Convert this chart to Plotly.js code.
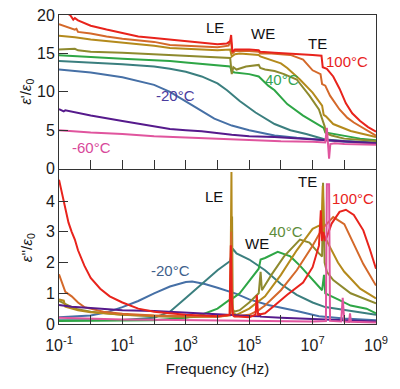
<!DOCTYPE html>
<html>
<head>
<meta charset="utf-8">
<script src="https://cdn.plot.ly/plotly-3.0.1.min.js"></script>
<style>html,body{margin:0;padding:0;background:#fff;}#chart{width:400px;height:389px;}</style>
</head>
<body>
<div id="chart"></div>
<script>
// Temperatures and colours
const temps = ["-60°C", "-40°C", "-20°C", "0°C", "20°C", "40°C", "60°C", "80°C", "100°C"];
const colors = ["#e0559e", "#561a8c", "#4670a6", "#3b7f7f", "#2ea646", "#8e8a2e", "#b48a1c", "#d4692a", "#e8231c"];

// ---- Top panel: eps' / eps0  (x = log10 frequency in Hz) ----
const re_m60_lf = [-1, 0, 1, 2, 3, 4, 5, 6, 7, 7.4, 7.45, 7.48, 7.52, 7.56, 7.7, 8, 9];
const re_m60_v  = [5.0, 4.7, 4.5, 4.2, 4.05, 3.9, 3.7, 3.55, 3.5, 3.4, 5.3, 3.0, 1.3, 3.2, 3.3, 3.2, 3.1];
const re_m40_lf = [-1, -0.85, -0.8, 0, 1, 2, 2.5, 3, 3.5, 4.45, 5, 5.8, 7, 8, 9];
const re_m40_v  = [7.75, 7.45, 7.6, 6.9, 6.2, 5.5, 5.15, 5.0, 4.85, 4.4, 4.2, 4.1, 3.8, 3.5, 3.3];
const re_m20_lf = [-1, 0, 1, 1.5, 2, 2.5, 3, 3.3, 3.9, 4.45, 5, 5.8, 6.5, 7.3, 8, 9];
const re_m20_v  = [12.9, 12.5, 11.9, 11.4, 10.9, 10.0, 8.8, 8.0, 6.5, 5.6, 5.0, 4.3, 4.0, 3.7, 3.5, 3.3];
const re_0_lf   = [-1, 0, 1, 2, 2.5, 3, 3.5, 4, 4.3, 4.7, 5.2, 5.8, 6.3, 6.8, 7.3, 7.4, 8.0, 9.0];
const re_0_v    = [14.0, 13.8, 13.6, 13.3, 13.0, 12.6, 12.0, 11.1, 10.2, 8.8, 7.3, 5.8, 5.0, 4.5, 4.0, 3.8, 3.6, 3.4];
const re_20_lf  = [-1, 0, 1, 2, 2.5, 3, 3.5, 4, 4.4, 4.45, 4.55, 5.0, 5.3, 5.4, 5.6, 5.8, 6.2, 6.7, 7.2, 7.35, 7.4, 7.8, 8.5, 9.0];
const re_20_v   = [14.75, 14.5, 14.3, 14.1, 14.0, 13.8, 13.6, 13.4, 13.3, 12.6, 12.5, 12.3, 12.0, 11.6, 10.8, 10.2, 8.4, 6.9, 5.6, 5.3, 4.7, 4.4, 3.9, 3.7];
const re_40_lf  = [-1, -0.5, -0.4, 0, 1, 2, 2.5, 3, 3.5, 4, 4.4, 4.45, 4.5, 4.6, 4.9, 5.3, 5.35, 5.5, 5.8, 6.1, 6.5, 6.9, 7.2, 7.38, 7.42, 7.6, 8.0, 9.0];
const re_40_v   = [15.5, 15.6, 15.4, 15.2, 15.1, 14.9, 14.8, 14.7, 14.6, 14.5, 14.4, 12.3, 13.2, 12.9, 13.3, 13.5, 13.1, 12.9, 12.7, 12.3, 11.6, 9.5, 7.7, 5.5, 4.6, 4.3, 3.9, 3.6];
const re_60_lf  = [-1, -0.5, 0, 1, 2, 2.5, 3, 3.5, 4, 4.4, 4.45, 4.55, 4.7, 5.0, 5.3, 5.35, 5.66, 6.0, 6.2, 6.6, 7.0, 7.3, 7.35, 7.42, 7.65, 8.2, 9.0];
const re_60_v   = [17.3, 17.1, 16.8, 16.4, 16.0, 15.7, 15.6, 15.5, 15.4, 15.5, 14.6, 14.9, 15.0, 14.9, 14.8, 14.6, 14.2, 13.7, 13.1, 11.6, 9.9, 8.2, 7.0, 6.8, 5.8, 4.9, 4.1];
const re_80_lf  = [-1, -0.6, -0.5, -0.45, -0.4, 0, 0.5, 1, 2, 2.5, 3, 3.5, 4, 4.35, 4.42, 4.47, 4.55, 5, 5.3, 5.35, 5.7, 6.0, 6.3, 6.7, 7.0, 7.25, 7.3, 7.4, 7.55, 7.85, 8.1, 8.3, 8.7, 9.0];
const re_80_v   = [18.8, 18.3, 18.1, 18.2, 17.8, 17.6, 17.2, 16.9, 16.5, 16.1, 16.0, 15.9, 15.8, 16.0, 16.8, 15.0, 15.3, 15.3, 15.2, 15.0, 15.0, 14.9, 14.8, 14.2, 12.8, 12.3, 11.0, 10.8, 9.5, 7.7, 6.6, 6.0, 5.0, 4.3];
const re_100_lf = [-1, -0.65, -0.55, -0.5, -0.4, 0, 0.5, 1, 1.5, 2, 2.5, 3, 3.5, 4, 4.3, 4.4, 4.43, 4.47, 4.55, 5, 5.3, 5.35, 5.8, 6.3, 6.7, 7.0, 7.28, 7.32, 7.45, 7.65, 7.85, 8.05, 8.25, 8.5, 8.75, 9.0];
const re_100_v  = [20.8, 20.0, 19.4, 19.6, 19.3, 18.6, 18.1, 17.6, 17.2, 17.0, 16.8, 16.6, 16.4, 16.2, 16.3, 16.6, 17.4, 15.2, 15.5, 15.5, 15.4, 15.2, 15.1, 15.0, 14.9, 14.8, 14.7, 13.2, 13.0, 12.0, 10.4, 8.5, 7.2, 6.2, 5.4, 4.8];

// ---- Bottom panel: eps'' / eps0 ----
const im_m60_lf = [-1, 0, 1, 2, 3, 4, 5, 6, 7, 7.42, 7.45, 7.52, 7.55, 7.9, 7.95, 8.0, 8.15, 8.18, 8.21, 9];
const im_m60_v  = [0.2, 0.17, 0.15, 0.14, 0.13, 0.12, 0.11, 0.1, 0.08, 0.1, 4.55, 4.55, 0.1, 0.08, 0.85, 0.08, 0.07, 0.35, 0.07, 0.05];
const im_m40_lf = [-1, -0.6, 0, 1, 2, 3, 4, 5, 5.3, 5.32, 5.36, 6, 7, 8, 9];
const im_m40_v  = [0.62, 0.56, 0.52, 0.45, 0.42, 0.38, 0.32, 0.26, 0.25, 0.35, 0.24, 0.2, 0.15, 0.12, 0.08];
const im_m20_lf = [-1, 0, 0.5, 1, 1.5, 2, 2.5, 3, 3.2, 3.6, 4.0, 4.4, 4.5, 4.6, 5.0, 5.6, 6.5, 7.2, 8, 9];
const im_m20_v  = [0.22, 0.28, 0.38, 0.55, 0.75, 1.0, 1.22, 1.37, 1.38, 1.3, 1.18, 1.05, 1.02, 0.98, 0.8, 0.62, 0.42, 0.25, 0.18, 0.12];
const im_0_lf   = [-1, 0, 1, 2, 2.5, 3, 3.5, 4, 4.4, 4.48, 4.6, 5.0, 5.5, 6.0, 6.5, 7.0, 7.4, 8.0, 9.0];
const im_0_v    = [0.12, 0.12, 0.13, 0.2, 0.4, 0.85, 1.3, 1.75, 2.05, 2.45, 2.3, 2.1, 1.75, 1.3, 0.95, 0.7, 0.55, 0.45, 0.3];
const im_20_lf  = [-1, 0, 1, 2, 3, 3.5, 4, 4.4, 4.45, 4.5, 4.7, 5.0, 5.3, 5.36, 5.5, 5.9, 6.3, 6.6, 7.0, 7.3, 7.36, 7.4, 7.8, 8.2, 8.7, 9.0];
const im_20_v   = [0.1, 0.1, 0.1, 0.12, 0.2, 0.3, 0.5, 0.8, 0.9, 0.85, 1.0, 1.4, 1.8, 2.1, 2.15, 2.35, 2.2, 1.9, 1.45, 1.1, 1.6, 1.0, 0.8, 0.6, 0.5, 0.35];
const im_40_lf  = [-1, -0.5, 0, 1, 2, 3, 4, 4.4, 4.46, 4.48, 4.52, 4.7, 5.0, 5.3, 5.36, 5.4, 5.7, 6.1, 6.6, 6.9, 7.2, 7.3, 7.33, 7.38, 7.45, 7.65, 8.2, 9.0];
const im_40_v   = [0.75, 0.5, 0.4, 0.3, 0.25, 0.22, 0.25, 0.3, 3.5, 0.5, 0.4, 0.45, 0.7, 1.0, 1.7, 1.1, 1.6, 2.2, 2.75, 2.65, 2.3, 2.2, 4.6, 2.0, 1.7, 1.43, 1.0, 0.67];
const im_60_lf  = [-1, -0.85, -0.8, -0.6, -0.4, 0, 0.4, 1, 2, 3, 4, 4.4, 4.44, 4.46, 4.5, 4.6, 5.0, 5.5, 6.0, 6.5, 7.0, 7.2, 7.28, 7.32, 7.36, 7.5, 7.8, 8.0, 8.5, 9.0];
const im_60_v   = [0.8, 0.76, 0.56, 0.5, 0.45, 0.38, 0.35, 0.3, 0.27, 0.25, 0.24, 0.3, 4.95, 0.6, 0.35, 0.3, 0.5, 0.9, 1.6, 2.4, 3.1, 3.2, 3.1, 4.5, 2.9, 2.6, 2.0, 1.7, 1.15, 0.83];
const im_80_lf  = [-1, -0.9, -0.8, -0.6, -0.5, -0.4, -0.2, 0, 0.4, 1, 2, 3, 4, 4.4, 4.43, 4.47, 4.55, 5, 5.3, 5.5, 6.0, 6.5, 7.0, 7.3, 7.65, 8.0, 8.3, 8.6, 9.0];
const im_80_v   = [1.62, 1.35, 1.05, 0.9, 0.8, 0.7, 0.55, 0.5, 0.4, 0.33, 0.28, 0.26, 0.24, 0.28, 3.0, 0.4, 0.25, 0.3, 0.45, 0.6, 1.1, 1.75, 2.55, 3.1, 3.48, 3.25, 2.6, 1.95, 1.25];
const im_100_lf = [-1, -0.9, -0.8, -0.7, -0.6, -0.5, -0.4, -0.3, -0.2, 0, 0.3, 0.6, 1, 1.5, 2, 3, 4, 4.38, 4.42, 4.45, 4.48, 4.52, 5, 5.2, 5.24, 5.28, 5.5, 5.8, 6.2, 6.7, 7.0, 7.2, 7.26, 7.3, 7.34, 7.4, 7.6, 7.85, 8.05, 8.3, 8.6, 8.8, 8.95, 9.0];
const im_100_v  = [4.7, 4.2, 3.8, 3.3, 3.0, 2.75, 2.4, 2.15, 1.9, 1.5, 1.15, 0.9, 0.7, 0.5, 0.4, 0.3, 0.25, 0.3, 2.56, 0.8, 0.3, 0.25, 0.22, 0.3, 0.94, 0.3, 0.35, 0.6, 0.95, 1.35, 1.85, 2.55, 3.7, 2.7, 3.0, 2.7, 3.27, 3.65, 3.72, 3.55, 3.05, 2.45, 1.9, 1.8];

const topSeries = [[re_m60_lf, re_m60_v], [re_m40_lf, re_m40_v], [re_m20_lf, re_m20_v], [re_0_lf, re_0_v], [re_20_lf, re_20_v], [re_40_lf, re_40_v], [re_60_lf, re_60_v], [re_80_lf, re_80_v], [re_100_lf, re_100_v]];
const botSeries = [[im_m60_lf, im_m60_v], [im_m40_lf, im_m40_v], [im_m20_lf, im_m20_v], [im_0_lf, im_0_v], [im_20_lf, im_20_v], [im_40_lf, im_40_v], [im_60_lf, im_60_v], [im_80_lf, im_80_v], [im_100_lf, im_100_v]];

// Labelled decade ticks (odd exponents) and unlabelled minor decade ticks (even exponents)
const majorExp = [-1, 1, 3, 5, 7, 9];
const majorLbl = ["10<sup>-1</sup>", "10<sup>1</sup>", "10<sup>3</sup>", "10<sup>5</sup>", "10<sup>7</sup>", "10<sup>9</sup>"];
const minorExp = [0, 2, 4, 6, 8];

const toHz = a => a.map(e => Math.pow(10, e));
const traces = [];
// draw order: cold first so hot curves lie on top, pink last at TE as in reference
const order = [2, 3, 4, 5, 6, 7, 1, 8, 0];
order.forEach(i => {
  traces.push({x: toHz(topSeries[i][0]), y: topSeries[i][1], xaxis: 'x2', yaxis: 'y2', mode: 'lines',
    line: {color: colors[i], width: 2}, name: temps[i], showlegend: false, hoverinfo: 'skip'});
  traces.push({x: toHz(botSeries[i][0]), y: botSeries[i][1], xaxis: 'x', yaxis: 'y', mode: 'lines',
    line: {color: colors[i], width: 2}, name: temps[i], showlegend: false, hoverinfo: 'skip'});
});

const fam = 'Liberation Sans, Arial, sans-serif';
const tickFont = {family: fam, size: 16, color: '#1a1a1a'};
const titleFont = {family: fam, size: 15, color: '#1a1a1a'};
const axBase = {showline: true, mirror: true, linecolor: '#333', linewidth: 1, ticks: 'inside', ticklen: 9,
  tickcolor: '#333', tickwidth: 1, showgrid: false, zeroline: false, tickfont: tickFont};
const minorTicks = {tickmode: 'array', tickvals: toHz(minorExp), ticks: 'inside', ticklen: 9, tickcolor: '#333', tickwidth: 1, showgrid: false};

const ann = (text, x, y, xref, yref, color) => ({text, x, y, xref, yref, showarrow: false,
  font: {family: fam, size: 15, color}, xanchor: 'center', yanchor: 'middle'});
const yTitle = (text, y) => ({text, x: -0.101, y, xref: 'paper', yref: 'paper', showarrow: false,
  textangle: -90, font: titleFont, xanchor: 'center', yanchor: 'middle'});

const layout = {
  width: 400, height: 389,
  margin: {l: 59, r: 24, t: 15, b: 65},
  paper_bgcolor: '#fff', plot_bgcolor: '#fff',
  font: titleFont,
  showlegend: false,
  xaxis: Object.assign({}, axBase, {type: 'log', range: [-1, 9], domain: [0, 1], anchor: 'y',
    tickmode: 'array', tickvals: toHz(majorExp), ticktext: majorLbl, ticklabelstandoff: 7,
    minor: minorTicks,
    title: {text: 'Frequency (Hz)', font: titleFont, standoff: 10}}),
  yaxis: Object.assign({}, axBase, {range: [0, 5], domain: [0, 0.497], anchor: 'x',
    tickmode: 'array', tickvals: [0, 1, 2, 3, 4]}),
  xaxis2: Object.assign({}, axBase, {type: 'log', range: [-1, 9], domain: [0, 1], anchor: 'y2',
    tickmode: 'array', tickvals: toHz(majorExp), showticklabels: false, minor: minorTicks}),
  yaxis2: Object.assign({}, axBase, {range: [0, 20], domain: [0.503, 1], anchor: 'x2',
    tickmode: 'array', tickvals: [0, 5, 10, 15, 20]}),
  annotations: [
    yTitle("<i>ε</i>'/<i>ε</i><sub>0</sub>", 0.7515),
    yTitle("<i>ε</i>''/<i>ε</i><sub>0</sub>", 0.2485),
    ann('LE', 3.92, 18.4, 'x2', 'y2', '#111'),
    ann('WE', 5.42, 17.6, 'x2', 'y2', '#111'),
    ann('TE', 7.17, 16.3, 'x2', 'y2', '#111'),
    ann('100°C', 8.07, 14.0, 'x2', 'y2', '#e8231c'),
    ann('40°C', 6.05, 11.6, 'x2', 'y2', '#35a453'),
    ann('-20°C', 2.69, 9.5, 'x2', 'y2', '#4b3c9e'),
    ann('-60°C', 0.01, 2.77, 'x2', 'y2', '#d8489a'),
    ann('LE', 3.89, 4.16, 'x', 'y', '#111'),
    ann('WE', 5.26, 2.61, 'x', 'y', '#111'),
    ann('TE', 6.85, 4.64, 'x', 'y', '#111'),
    ann('100°C', 8.29, 4.07, 'x', 'y', '#e8231c'),
    ann('40°C', 6.15, 3.02, 'x', 'y', '#5e8c3a'),
    ann('-20°C', 2.53, 1.75, 'x', 'y', '#3f5f8c')
  ]
};

Plotly.newPlot('chart', traces, layout, {displayModeBar: false, staticPlot: true});
</script>
</body>
</html>
